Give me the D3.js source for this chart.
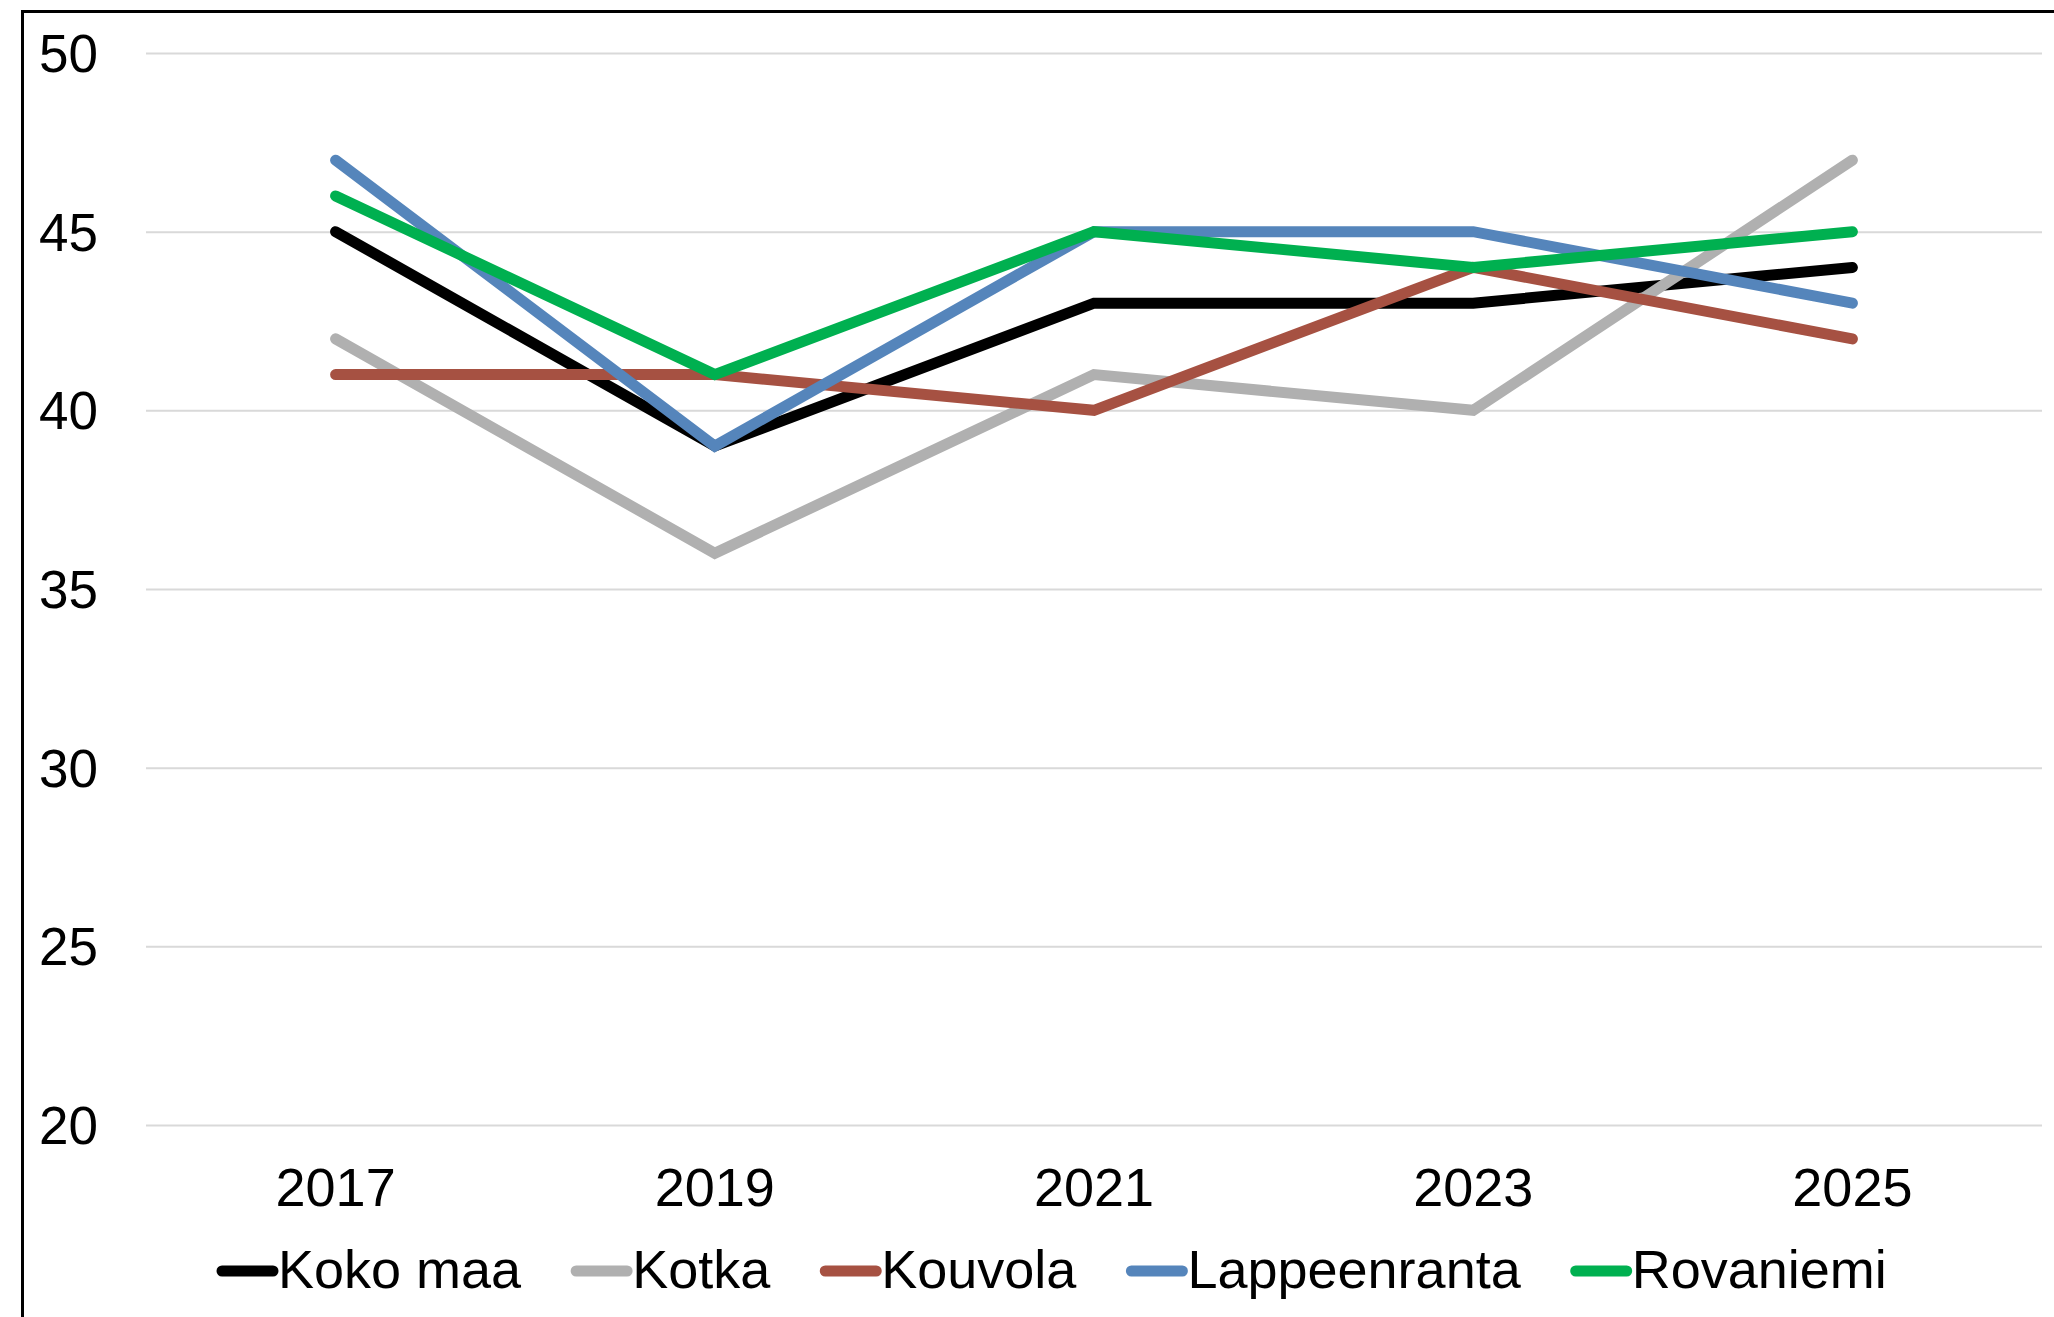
<!DOCTYPE html>
<html><head><meta charset="utf-8">
<script src="https://cdn.jsdelivr.net/npm/d3@7"></script>
<style>html,body{margin:0;padding:0;background:#fff;}svg{display:block;}</style>
</head><body>
<script>
const years = ["2017","2019","2021","2023","2025"];
const seriesNames = ["Koko maa","Kotka","Kouvola","Lappeenranta","Rovaniemi"];
const kokoMaa = [45,39,43,43,44];
const kotka = [42,36,41,40,47];
const kouvola = [41,41,40,44,42];
const lappeenranta = [47,39,45,45,43];
const rovaniemi = [46,41,45,44,45];
const yTicks = [20,25,30,35,40,45,50];
const colors = ["#000000","#b0b0b0","#a65142","#5585bb","#00b050"];

const W=2054,H=1317;
const svg=d3.select("body").append("svg").attr("width",W).attr("height",H);
const font="'Liberation Sans', Arial, sans-serif";

const x=d3.scaleBand().domain(years).range([146,2042]);
const y=d3.scaleLinear().domain([20,50]).range([1125,53]);

svg.append("path").attr("d",`M22.5,${H} L22.5,11.5 L${W},11.5`).attr("fill","none").attr("stroke","#000").attr("stroke-width",3);

const yAxis=d3.axisLeft(y).tickValues(yTicks).tickSize(-(2042-146)).tickPadding(48);
const gy=svg.append("g").attr("transform","translate(146,0)").call(yAxis);
gy.select(".domain").remove();
gy.selectAll(".tick line").attr("stroke","#d9d9d9").attr("stroke-width",2);
gy.selectAll(".tick text").attr("font-family",font).attr("font-size",53).attr("fill","#000").attr("dy","0.35em");

const xAxis=d3.axisBottom(x).tickSize(0).tickPadding(0);
const gx=svg.append("g").attr("transform","translate(0,1206)").call(xAxis);
gx.select(".domain").remove();
gx.selectAll(".tick text").attr("font-family",font).attr("font-size",54).attr("fill","#000").attr("dy",0).attr("y",0);

const data=[kokoMaa,kotka,kouvola,lappeenranta,rovaniemi];
const line=d3.line().x((d,i)=>x(years[i])+x.bandwidth()/2).y(d=>y(d));
data.forEach((s,k)=>{
  svg.append("path").datum(s).attr("d",line).attr("fill","none")
    .attr("stroke",colors[k]).attr("stroke-width",11)
    .attr("stroke-linecap","round").attr("stroke-linejoin","miter");
});

let lx=222;
const ly=1271;
seriesNames.forEach((n,k)=>{
  svg.append("line").attr("x1",lx).attr("x2",lx+51).attr("y1",ly).attr("y2",ly)
    .attr("stroke",colors[k]).attr("stroke-width",11).attr("stroke-linecap","round");
  const t=svg.append("text").attr("x",lx+56).attr("y",1288).attr("font-family",font).attr("font-size",54).attr("fill","#000").text(n);
  lx+=56+t.node().getComputedTextLength()+55;
});
</script>
</body></html>
